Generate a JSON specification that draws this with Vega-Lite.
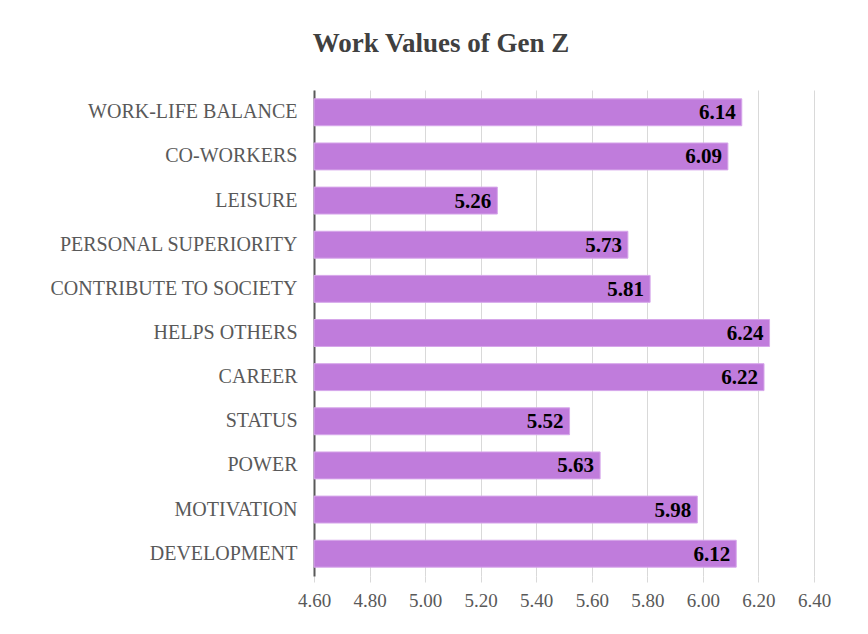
{
  "$schema": "https://vega.github.io/schema/vega-lite/v6.json",
  "autosize": {"type": "none"},
  "width": 500,
  "height": 486,
  "padding": {"left": 314, "top": 90, "right": 54, "bottom": 58},
  "background": "white",
  "title": {
    "text": "Work Values of Gen Z",
    "font": "Liberation Serif",
    "fontSize": 27,
    "fontWeight": "bold",
    "color": "#404040",
    "anchor": "middle",
    "dx": -123,
    "baseline": "alphabetic",
    "offset": 11
  },
  "config": {
    "view": {"stroke": null},
    "font": "Liberation Serif"
  },
  "data": {
    "values": [
      {"value_name": "WORK-LIFE BALANCE", "score": 6.14},
      {"value_name": "CO-WORKERS", "score": 6.09},
      {"value_name": "LEISURE", "score": 5.26},
      {"value_name": "PERSONAL SUPERIORITY ", "score": 5.73},
      {"value_name": "CONTRIBUTE TO SOCIETY", "score": 5.81},
      {"value_name": "HELPS OTHERS", "score": 6.24},
      {"value_name": "CAREER", "score": 6.22},
      {"value_name": "STATUS", "score": 5.52},
      {"value_name": "POWER", "score": 5.63},
      {"value_name": "MOTIVATION", "score": 5.98},
      {"value_name": "DEVELOPMENT", "score": 6.12}
    ]
  },
  "encoding": {
    "y": {
      "field": "value_name",
      "type": "nominal",
      "sort": null,
      "title": null,
      "scale": {"paddingInner": 0.39, "paddingOuter": 0.2},
      "axis": {
        "ticks": false,
        "domainColor": "#595959",
        "domainWidth": 2,
        "labelFont": "Liberation Serif",
        "labelFontSize": 20,
        "labelColor": "#595959",
        "labelPadding": 17,
        "labelLimit": 400,
        "grid": false
      }
    },
    "x": {
      "field": "score",
      "type": "quantitative",
      "title": null,
      "scale": {"domain": [4.6, 6.4], "zero": false, "nice": false, "clamp": true},
      "axis": {
        "values": [4.6, 4.8, 5.0, 5.2, 5.4, 5.6, 5.8, 6.0, 6.2, 6.4],
        "format": ".2f",
        "domain": false,
        "grid": true,
        "gridColor": "#d9d9d9",
        "tickColor": "#d9d9d9",
        "tickSize": 6,
        "labelFlush": false,
        "labelOverlap": false,
        "labelFont": "Liberation Serif",
        "labelFontSize": 19,
        "labelColor": "#595959",
        "labelPadding": 9
      }
    }
  },
  "layer": [
    {
      "mark": {"type": "bar", "color": "#c07cdc", "stroke": "#d6a6ea", "strokeWidth": 1}
    },
    {
      "mark": {
        "type": "text",
        "align": "right",
        "baseline": "middle",
        "dx": -6,
        "dy": 1,
        "font": "Liberation Serif",
        "fontSize": 21,
        "fontWeight": "bold",
        "color": "#000000"
      },
      "encoding": {
        "text": {"field": "score", "type": "quantitative", "format": ".2f"}
      }
    }
  ]
}
